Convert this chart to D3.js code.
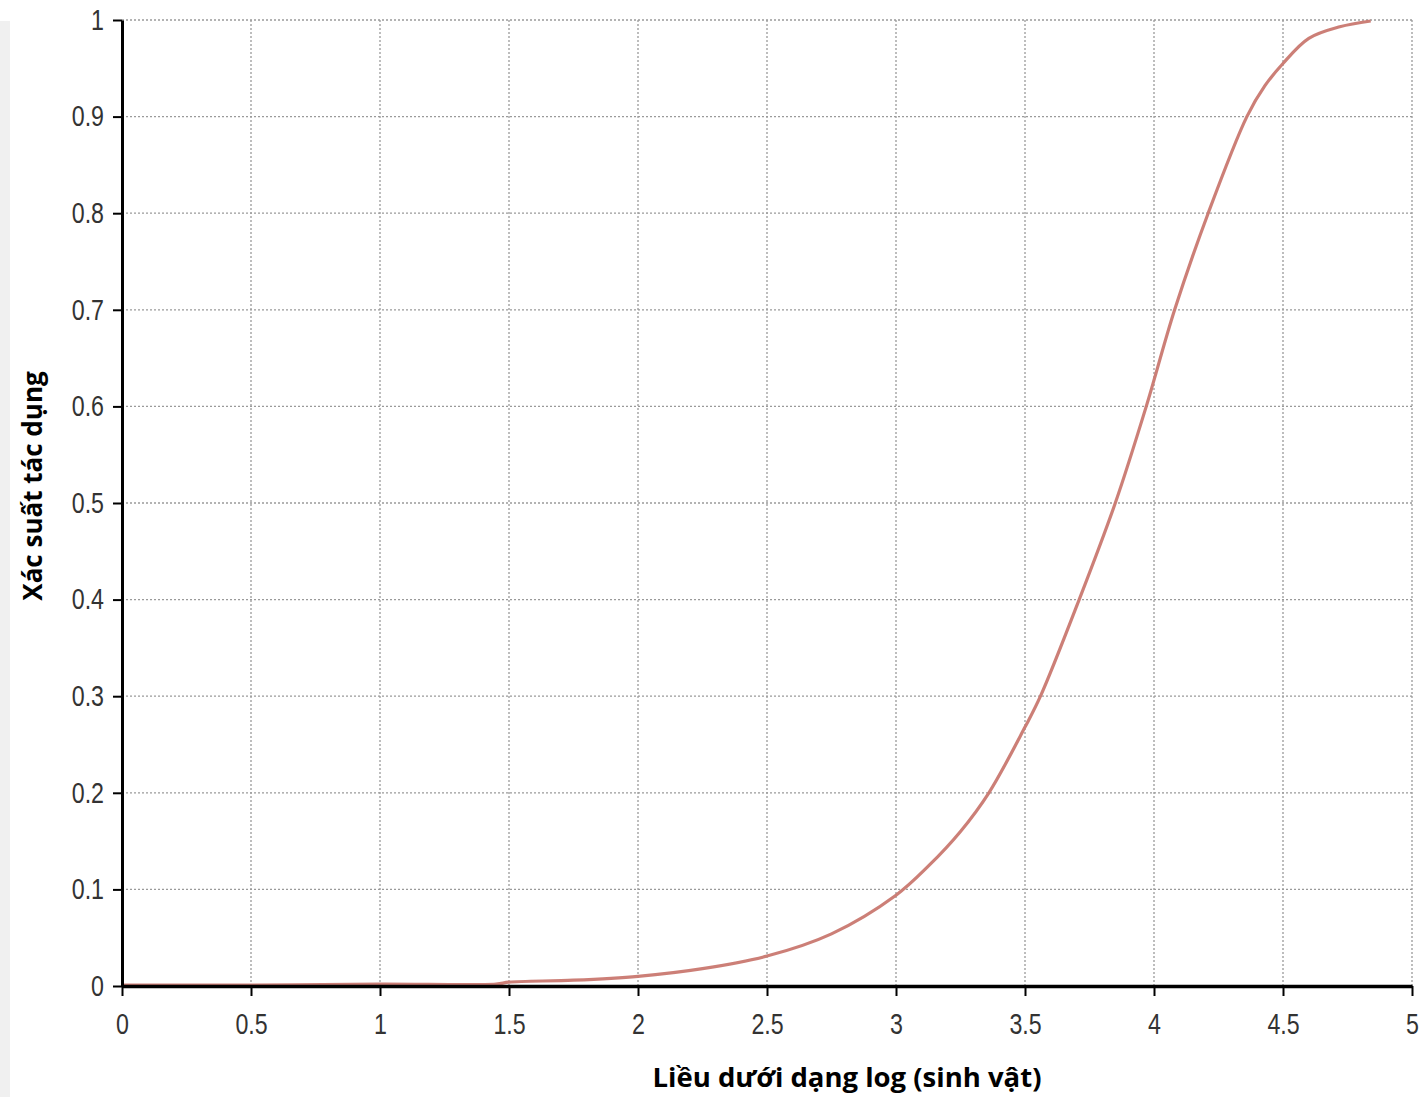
<!DOCTYPE html>
<html lang="vi">
<head>
  <meta charset="utf-8" />
  <title>Xác suất tác dụng</title>
  <script src="https://d3js.org/d3.v7.min.js"></script>
  <style>
    body { margin: 0; background: #fff; }
    svg { display: block; }
    .tick text { font-family: "Liberation Sans", Arial, sans-serif; fill: #333; }
    .title { font-family: "Open Sans", sans-serif; font-weight: bold; fill: #000; }
  </style>
</head>
<body>
  <svg id="viz" width="1419" height="1097"></svg>
  <script>
    // lieu (log) va xac suat doc tu hinh
    const doseLog = [0, 0.5, 1, 1.45, 1.5, 1.75, 2, 2.25, 2.5, 2.75, 3, 3.125, 3.25, 3.36, 3.5, 3.56, 3.71, 3.85, 3.97, 4.08, 4.21, 4.36, 4.43, 4.5, 4.6, 4.72, 4.84];
    const prob = [0.001, 0.001, 0.002, 0.002, 0.004, 0.006, 0.010, 0.018, 0.031, 0.054, 0.094, 0.124, 0.16, 0.2, 0.268, 0.3, 0.4, 0.5, 0.6, 0.7, 0.8, 0.9, 0.932, 0.955, 0.981, 0.993, 0.999];
    const xTicks = [0, 0.5, 1, 1.5, 2, 2.5, 3, 3.5, 4, 4.5, 5];
    const yTicks = [0, 0.1, 0.2, 0.3, 0.4, 0.5, 0.6, 0.7, 0.8, 0.9, 1];
    const xLabel = "Liều dưới dạng log (sinh vật)";
    const yLabel = "Xác suất tác dụng";

    const svg = d3.select("#viz");
    const mLeft = 122, mRight = 1412, mTop = 20, mBottom = 986;
    const narrow = 0.8; // chiffres etroits

    const x = d3.scaleLinear().domain([0, 5]).range([mLeft, mRight]);
    const y = d3.scaleLinear().domain([0, 1]).range([mBottom, mTop]);

    // bande grise a gauche
    svg.append("rect").attr("x", 0).attr("y", 21).attr("width", 10).attr("height", 1076).attr("fill", "#f0f0f0");

    // grille pointillee
    const grid = svg.append("g");
    grid.selectAll("line.v").data(xTicks.slice(1)).join("line")
      .attr("x1", d => x(d)).attr("x2", d => x(d))
      .attr("y1", mTop).attr("y2", mBottom)
      .attr("stroke", "#9a9a9a").attr("stroke-width", 1.3).attr("stroke-dasharray", "2,2");
    grid.selectAll("line.h").data(yTicks.slice(1)).join("line")
      .attr("x1", mLeft).attr("x2", mRight)
      .attr("y1", d => y(d)).attr("y2", d => y(d))
      .attr("stroke", "#9a9a9a").attr("stroke-width", 1.3).attr("stroke-dasharray", "2,2");

    // courbe
    const line = d3.line().x((d, i) => x(doseLog[i])).y(d => y(d)).curve(d3.curveCatmullRom.alpha(0.5));
    svg.append("path").datum(prob)
      .attr("d", line)
      .attr("fill", "none")
      .attr("stroke", "#c97870")
      .attr("stroke-width", 3.2)
      .attr("opacity", 0.95);

    const xAxis = svg.append("g").attr("transform", `translate(0,${mBottom})`)
      .call(d3.axisBottom(x).tickValues(xTicks).tickFormat(d3.format("")).tickSize(10).tickSizeOuter(0));
    xAxis.select(".domain").attr("stroke", "#000").attr("stroke-width", 3.5);
    xAxis.selectAll(".tick line").attr("stroke", "#000").attr("stroke-width", 2);
    xAxis.selectAll(".tick text").attr("font-size", 29).attr("dy", "0.78em").attr("y", 0)
      .attr("transform", `translate(0,25) scale(${narrow},1)`);

    const yAxis = svg.append("g").attr("transform", `translate(${mLeft},0)`)
      .call(d3.axisLeft(y).tickValues(yTicks).tickFormat(d3.format("")).tickSize(9).tickSizeOuter(0));
    yAxis.select(".domain").attr("stroke", "#000").attr("stroke-width", 3);
    yAxis.selectAll(".tick line").attr("stroke", "#000").attr("stroke-width", 2);
    yAxis.selectAll(".tick text").attr("font-size", 29).attr("x", 0)
      .attr("transform", `translate(-18,0) scale(${narrow},1)`);

    svg.append("text").attr("class", "title")
      .attr("x", 847).attr("y", 1087)
      .attr("text-anchor", "middle").attr("font-size", 27.5)
      .text(xLabel);

    svg.append("text").attr("class", "title")
      .attr("transform", "translate(42,486) rotate(-90)")
      .attr("text-anchor", "middle").attr("font-size", 26)
      .text(yLabel);
  </script>
</body>
</html>
